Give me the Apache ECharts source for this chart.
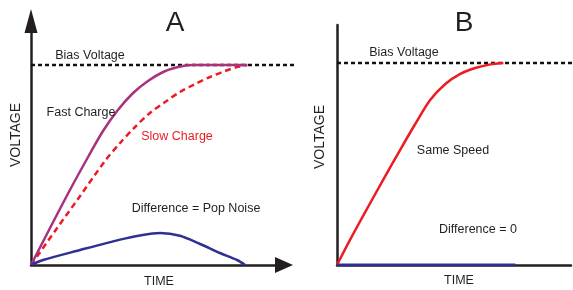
<!DOCTYPE html>
<html><head><meta charset="utf-8">
<script src="https://cdn.jsdelivr.net/npm/echarts@6/dist/echarts.min.js"></script>
<style>html,body{margin:0;padding:0;background:#fff;}#c{width:573px;height:290px;}</style>
</head><body><div id="c"></div>
<script>
// ---- Panel A data (time units, voltage normalised so bias = 1) ----
const fastCharge = [[0,0],[0.88,0.185],[1.8,0.375],[2.64,0.54],[3.33,0.67],[4.02,0.775],[4.72,0.86],[5.41,0.92],[6.11,0.965],[6.8,0.99],[7.45,1.0],[10,1.0]];
const slowCharge = [[0,0],[1.11,0.17],[2.27,0.345],[3.42,0.52],[4.12,0.61],[4.81,0.69],[5.5,0.76],[6.2,0.815],[6.89,0.865],[7.59,0.905],[8.28,0.94],[8.97,0.97],[9.53,0.99],[10,1.0]];
const popNoise = [[0,0],[0.56,0.025],[2.27,0.075],[4.12,0.127],[5.04,0.148],[5.97,0.16],[6.89,0.146],[7.82,0.105],[8.74,0.06],[9.53,0.025],[9.9,0]];
const biasA = [[0,1],[12.3,1]];
// ---- Panel B data ----
const sameSpeed = [[0,0],[0.6,0.124],[1.3,0.262],[2.13,0.421],[2.91,0.569],[3.61,0.698],[4.3,0.817],[5.0,0.896],[5.69,0.946],[6.38,0.975],[7.08,0.993],[7.68,1.0]];
const diffZero = [[0,0],[8.23,0]];
const biasB = [[0,1],[11.1,1]];

const TXT = '#231f20', RED = '#ed1c24', PURPLE = '#a8327e', BLUE = '#2e3192';
const FONT = '"Liberation Sans", Arial, sans-serif';

const chart = echarts.init(document.getElementById('c'), null, {renderer: 'canvas'});

function axisBase(extra) {
  return Object.assign({
    type: 'value', axisTick: {show: false}, axisLabel: {show: false}, splitLine: {show: false},
    axisLine: {show: false}
  }, extra);
}
function txt(text, x, y, opts) {
  opts = opts || {};
  return {
    type: 'text', x: x, y: y, rotation: opts.rot || 0, z: 100,
    style: {text: text, fill: opts.color || TXT, font: (opts.size || 12.5) + 'px ' + FONT,
            textAlign: 'center', textVerticalAlign: 'middle'}
  };
}

chart.setOption({
  animation: false,
  backgroundColor: '#fff',
  grid: [
    {left: 31, top: 21, width: 253, height: 244},
    {left: 337, top: 25, width: 234, height: 240},
    {left: 31, top: 21, width: 266, height: 244},
    {left: 337, top: 25, width: 240, height: 240}
  ],
  xAxis: [
    axisBase({gridIndex: 0, min: 0, max: 11.7,
      axisLine: {show: true, symbol: ['none', 'triangle'], symbolSize: [16, 18],
                 lineStyle: {color: TXT, width: 2.5}}}),
    axisBase({gridIndex: 1, min: 0, max: 10.8,
      axisLine: {show: true, lineStyle: {color: TXT, width: 2.5}}}),
    axisBase({gridIndex: 2, min: 0, max: 12.3}),
    axisBase({gridIndex: 3, min: 0, max: 11.1})
  ],
  yAxis: [
    axisBase({gridIndex: 0, min: 0, max: 1.22,
      axisLine: {show: true, symbol: ['none', 'triangle'], symbolSize: [13, 24],
                 lineStyle: {color: TXT, width: 2.5}}}),
    axisBase({gridIndex: 1, min: 0, max: 1.188,
      axisLine: {show: true, lineStyle: {color: TXT, width: 2.5}}}),
    axisBase({gridIndex: 2, min: 0, max: 1.22}),
    axisBase({gridIndex: 3, min: 0, max: 1.188})
  ],
  series: [
    {type: 'line', xAxisIndex: 2, yAxisIndex: 2, data: biasA, showSymbol: false, z: 2,
     lineStyle: {color: '#111', width: 2.3, type: [4, 3]}},
    {type: 'line', xAxisIndex: 0, yAxisIndex: 0, data: slowCharge, showSymbol: false, smooth: 0.3, z: 3,
     lineStyle: {color: RED, width: 2.5, type: [6, 4]}},
    {type: 'line', xAxisIndex: 0, yAxisIndex: 0, data: fastCharge, showSymbol: false, smooth: 0.3, z: 4,
     lineStyle: {color: PURPLE, width: 2.5}},
    {type: 'line', xAxisIndex: 0, yAxisIndex: 0, data: popNoise, showSymbol: false, smooth: 0.3, z: 5,
     lineStyle: {color: BLUE, width: 2.5}},
    {type: 'line', xAxisIndex: 3, yAxisIndex: 3, data: biasB, showSymbol: false, z: 2,
     lineStyle: {color: '#111', width: 2.3, type: [4, 3]}},
    {type: 'line', xAxisIndex: 1, yAxisIndex: 1, data: sameSpeed, showSymbol: false, smooth: 0.3, z: 4,
     lineStyle: {color: RED, width: 2.5}},
    {type: 'line', xAxisIndex: 1, yAxisIndex: 1, data: diffZero, showSymbol: false, z: 5,
     lineStyle: {color: BLUE, width: 3}}
  ],
  graphic: [
    txt('A', 175, 23, {size: 28}),
    txt('Bias Voltage', 90, 56),
    txt('Fast Charge', 81, 113),
    txt('Slow Charge', 177, 137, {color: RED}),
    txt('Difference = Pop Noise', 196, 209),
    txt('TIME', 159, 282),
    txt('VOLTAGE', 16, 135, {size: 14, rot: Math.PI / 2}),
    txt('B', 464, 23, {size: 28}),
    txt('Bias Voltage', 404, 53),
    txt('Same Speed', 453, 151),
    txt('Difference = 0', 478, 230),
    txt('TIME', 459, 281),
    txt('VOLTAGE', 320, 137, {size: 14, rot: Math.PI / 2})
  ]
});
</script></body></html>
